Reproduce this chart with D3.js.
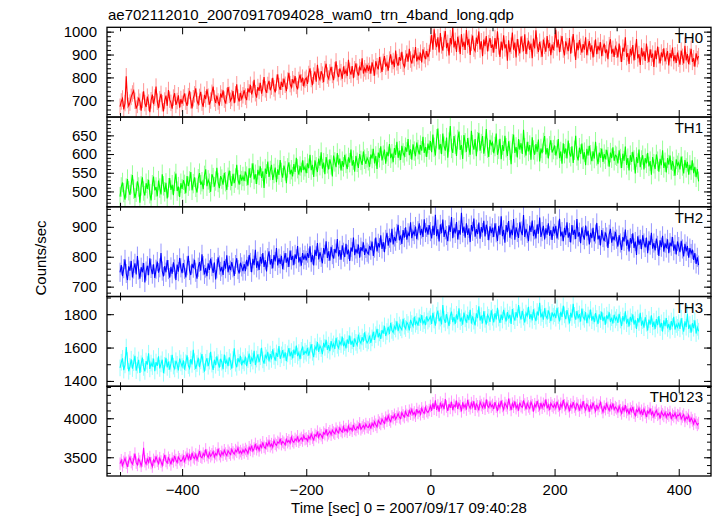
<!DOCTYPE html>
<html>
<head>
<meta charset="utf-8">
<script src="https://cdn.jsdelivr.net/npm/d3@7"></script>
<style>
  html, body { margin: 0; padding: 0; background: #fff; }
  svg { display: block; font-family: "Liberation Sans", Arial, Helvetica, sans-serif; }
</style>
</head>
<body>
<svg id="chart" width="717" height="516"></svg>
<script>
// ---------------- data ----------------
const titleText = "ae702112010_20070917094028_wam0_trn_4band_long.qdp";
const xLabel = "Time [sec] 0 = 2007/09/17 09:40:28";
const yLabel = "Counts/sec";
const bandNames = ["TH0", "TH1", "TH2", "TH3", "TH0123"];
const bandColors = ["#ff0000", "#00ff00", "#0000ff", "#00ffff", "#ff00ff"];
const tStart = -500, tStep = 2;           // first bin time and bin width (s)
const xTicksMajor = [-400, -200, 0, 200, 400];
const yTicksMajor = [[700, 800, 900, 1000], [500, 550, 600, 650], [700, 800, 900], [1400, 1600, 1800], [3500, 4000]];
const yMinorStep = [20, 10, 20, 100, 100];
const yDomains = [[627, 1019], [459, 699], [667, 967], [1368, 1906], [3260, 4410]];
const errBars = [36, 26, 32, 50, 80];

const th0 = [
672,695,708,660,688,805,701,676,690,715,730,742,698,664,680,712,694,655,702,739,
688,671,716,690,648,700,725,683,712,760,694,666,705,728,687,652,699,721,676,745,
703,689,664,712,731,680,697,722,668,706,
685,712,730,694,676,718,741,700,665,709,726,752,698,683,715,737,690,672,724,705,
748,716,681,699,733,760,708,689,721,695,677,730,712,744,703,686,719,758,724,698,
710,741,688,726,770,712,695,733,706,722,
744,716,701,752,735,768,726,747,790,731,712,758,741,776,729,754,802,748,733,767,
785,744,760,798,752,735,777,814,762,746,781,759,795,768,740,786,820,771,757,792,
774,806,763,748,789,812,778,799,761,790,
798,772,815,840,793,766,808,826,781,855,803,790,827,812,779,836,860,808,795,822,
846,811,788,832,870,818,801,839,823,794,848,815,832,806,877,829,812,850,797,836,
862,824,808,845,831,884,817,840,826,855,
828,852,816,866,842,808,871,849,835,889,855,824,868,893,847,862,830,878,901,856,
872,845,917,866,851,889,873,912,860,846,883,904,869,925,878,861,897,884,933,870,
892,876,908,865,923,896,880,915,889,907,
948,985,921,1010,956,932,975,909,994,940,917,968,1003,928,951,896,972,944,1018,931,
960,911,978,947,902,989,934,956,920,1007,941,969,898,952,983,926,915,974,947,1001,
922,958,893,965,937,981,914,950,972,929,
944,908,972,925,1002,936,890,957,918,984,927,945,873,962,910,938,996,921,952,887,
968,931,905,979,946,915,988,902,937,961,920,948,884,970,927,1006,939,911,956,924,
890,965,938,912,981,928,951,897,944,919,
952,1008,931,965,910,947,981,922,896,958,937,915,972,904,943,990,928,876,951,919,
963,934,908,946,921,975,897,932,959,913,940,887,926,966,902,938,918,954,893,929,
948,906,922,880,941,967,904,925,890,934,
921,887,948,903,868,930,912,975,889,906,859,925,896,941,874,912,968,883,902,855,
930,891,914,872,948,899,867,923,886,904,846,918,880,935,897,861,909,888,927,870,
893,915,852,906,884,930,871,897,863,909,
882,856,917,890,861,938,874,902,858,891,925,868,884,847,905,880,893];

const th1 = [
486,512,524,497,478,509,533,502,491,520,544,506,483,498,527,512,470,515,538,501,
489,522,507,531,494,476,518,540,503,512,487,529,509,492,546,515,499,523,481,510,
536,504,518,490,527,548,501,513,485,522,
507,530,519,495,541,514,528,552,503,521,538,511,497,534,549,518,526,506,543,559,
514,531,522,499,546,537,513,528,563,524,509,541,533,518,550,526,504,538,556,529,
515,547,522,536,571,531,518,545,529,540,
528,553,541,517,562,537,549,575,532,546,520,558,543,567,536,554,509,561,547,580,
539,556,571,531,548,564,525,559,544,584,551,537,569,555,522,563,578,546,558,540,
573,552,590,561,545,568,551,583,557,566,
549,575,562,598,557,571,539,583,566,552,588,569,605,561,577,546,592,574,559,586,
571,540,596,579,565,603,572,588,556,581,566,598,575,560,591,577,612,569,584,553,
595,578,563,600,583,571,607,586,574,590,
582,566,599,588,614,575,595,560,604,590,621,583,597,612,574,606,594,627,589,601,
578,616,598,633,590,609,584,622,603,595,618,606,640,597,613,585,626,608,594,631,
612,599,624,609,646,603,619,592,628,611,
635,605,652,618,596,641,668,612,627,600,655,621,609,644,590,632,675,615,603,648,
626,595,639,660,611,624,587,651,630,606,643,618,598,662,625,612,640,594,633,657,
609,628,648,601,621,667,616,592,638,624,
631,602,620,655,598,613,641,586,624,608,649,617,595,634,610,573,628,652,603,619,
591,640,612,629,600,665,617,596,633,607,624,585,645,611,598,627,606,639,580,615,
602,631,648,599,616,588,622,637,604,612,
623,596,612,640,589,607,574,629,601,615,588,636,603,593,621,576,610,649,595,583,
617,600,628,586,605,570,614,596,622,598,581,607,588,633,595,573,604,590,615,579,
600,586,611,593,566,604,589,618,582,597,
594,575,610,588,563,601,582,620,571,589,556,597,579,606,584,548,592,576,612,565,
584,597,559,589,575,603,567,581,545,592,574,560,599,581,553,587,570,610,563,578,
551,589,572,596,558,581,567,542,586,570,
577,559,593,568,548,584,563,579,545,571,557,583,549,566,538,560,527];

const th2 = [
748,772,735,760,791,744,722,768,753,786,731,759,778,741,802,756,727,765,748,779,
714,752,770,738,795,761,742,775,729,758,784,747,763,812,752,734,769,748,789,757,
730,766,743,781,759,722,774,750,796,763,
745,779,758,731,770,803,754,739,776,762,790,748,727,765,782,753,808,770,741,762,
735,778,756,794,767,746,781,724,760,798,772,751,766,739,786,760,805,748,771,755,
782,763,736,774,795,757,744,780,766,752,
775,752,790,768,806,781,748,793,772,823,763,785,756,800,777,812,766,789,751,797,
818,774,792,761,806,784,829,771,795,776,803,758,788,812,780,797,766,821,789,803,
772,808,793,836,781,799,770,812,790,805,
788,812,796,835,782,806,771,823,803,846,791,815,798,778,829,808,852,796,818,787,
833,807,794,826,812,859,801,822,790,838,815,799,843,808,824,786,831,817,864,805,
826,811,841,797,832,819,848,806,828,815,
809,836,822,851,803,829,864,818,845,831,872,826,849,815,858,880,837,862,848,893,
841,866,852,878,907,855,871,843,889,864,898,857,880,869,915,862,885,874,901,859,
887,912,872,893,866,925,881,898,874,906,
884,861,903,873,940,869,892,851,908,879,924,866,890,871,852,905,883,933,862,897,
878,916,858,889,874,947,880,901,864,912,873,895,849,906,885,928,867,892,876,914,
860,899,881,920,868,907,888,855,902,879,
897,866,912,880,853,903,874,935,869,890,847,906,882,919,864,891,872,926,857,898,
881,863,915,886,872,939,866,893,878,852,904,883,921,869,890,861,908,877,931,866,
884,903,858,895,874,912,870,889,856,901,
878,903,861,889,927,868,884,852,897,872,915,864,881,848,906,873,890,859,926,867,
882,845,898,871,857,904,869,887,841,880,862,897,851,876,913,858,871,838,889,864,
852,881,866,829,875,893,847,868,855,883,
859,834,872,846,823,866,851,891,837,857,818,862,844,878,829,851,806,868,840,858,
825,872,846,831,864,812,853,839,880,827,846,821,861,838,803,855,832,870,817,845,
829,858,812,847,835,866,820,841,808,851,
834,815,853,826,801,843,818,836,797,829,811,824,789,812,776,798,772];

const th3 = [
1478,1512,1535,1465,1496,1603,1522,1458,1487,1530,1474,1509,1551,1462,1495,1526,1448,1503,1540,1481,
1457,1519,1498,1566,1472,1507,1486,1534,1459,1513,1490,1548,1475,1502,1527,1446,1493,1538,1481,1516,
1468,1505,1557,1489,1472,1521,1499,1463,1534,1508,
1486,1524,1468,1509,1553,1492,1476,1531,1499,1587,1515,1472,1504,1539,1483,1520,1561,1497,1455,1512,
1536,1488,1519,1574,1501,1466,1527,1494,1548,1509,1480,1533,1512,1470,1558,1503,1524,1489,1541,1515,
1474,1528,1596,1506,1482,1537,1511,1550,1493,1522,
1508,1546,1489,1528,1564,1502,1537,1519,1580,1495,1531,1559,1512,1545,1598,1526,1504,1553,1538,1574,
1517,1561,1529,1590,1547,1522,1568,1544,1609,1533,1556,1585,1539,1571,1518,1562,1597,1548,1576,1535,
1588,1557,1612,1549,1570,1531,1583,1602,1556,1578,
1566,1598,1552,1584,1620,1571,1543,1606,1589,1633,1574,1611,1594,1560,1628,1601,1647,1586,1615,1578,
1639,1604,1622,1591,1658,1613,1597,1635,1618,1666,1608,1630,1595,1649,1623,1672,1617,1641,1604,1655,
1631,1614,1678,1640,1625,1663,1636,1691,1648,1627,
1640,1672,1628,1658,1695,1646,1677,1712,1661,1688,1652,1705,1684,1730,1669,1696,1724,1681,1748,1703,
1690,1726,1711,1757,1698,1735,1719,1706,1772,1728,1714,1751,1738,1703,1766,1744,1727,1785,1740,1756,
1731,1779,1750,1795,1743,1762,1734,1788,1759,1771,
1786,1742,1808,1765,1731,1794,1822,1758,1777,1739,1855,1770,1748,1801,1763,1729,1790,1816,1752,1783,
1741,1799,1768,1835,1756,1779,1737,1810,1772,1750,1796,1764,1827,1744,1787,1759,1733,1805,1776,1848,
1762,1791,1745,1818,1769,1738,1796,1781,1754,1823,
1782,1751,1806,1769,1839,1777,1748,1798,1765,1826,1789,1756,1813,1774,1797,1742,1831,1786,1761,1812,
1779,1855,1795,1768,1820,1783,1750,1807,1790,1844,1771,1800,1763,1829,1785,1758,1816,1792,1869,1781,
1804,1767,1836,1789,1774,1822,1797,1758,1811,1788,
1803,1776,1838,1792,1757,1815,1784,1851,1796,1770,1824,1788,1745,1809,1780,1862,1793,1767,1819,1775,
1801,1756,1834,1783,1769,1812,1746,1795,1777,1828,1761,1790,1752,1806,1774,1741,1799,1768,1815,1758,
1786,1737,1794,1770,1812,1753,1779,1744,1797,1766,
1781,1748,1802,1765,1729,1789,1757,1817,1743,1772,1726,1784,1755,1799,1738,1766,1712,1777,1750,1808,
1731,1761,1719,1782,1746,1702,1768,1737,1793,1724,1756,1711,1771,1734,1789,1720,1748,1696,1763,1729,
1777,1715,1742,1704,1759,1726,1784,1708,1738,1721,
1749,1712,1776,1728,1695,1757,1722,1803,1711,1738,1689,1746,1716,1763,1684,1721,1698];

const th0123 = [
3418,3462,3395,3441,3487,3429,3376,3455,3500,3438,3412,3468,3547,3431,3402,3479,3446,3391,3458,3620,
3449,3412,3476,3435,3503,3426,3381,3467,3440,3512,3454,3418,3489,3445,3397,3471,3530,3452,3426,3494,
3462,3408,3483,3447,3519,3465,3431,3502,3474,3448,
3466,3512,3449,3495,3541,3478,3527,3462,3558,3501,3485,3536,3470,3519,3580,3507,3493,3547,3515,3601,
3528,3497,3556,3514,3538,3575,3503,3549,3526,3612,3541,3513,3569,3531,3590,3548,3522,3584,3557,3535,
3603,3562,3540,3592,3571,3620,3553,3579,3547,3596,
3561,3606,3582,3547,3628,3594,3650,3579,3613,3671,3603,3639,3588,3657,3626,3692,3634,3615,3678,3648,
3705,3641,3669,3628,3714,3672,3653,3697,3681,3740,3667,3702,3685,3658,3731,3693,3716,3680,3758,3709,
3691,3735,3712,3769,3700,3726,3748,3714,3777,3732,
3742,3710,3768,3735,3796,3752,3722,3789,3771,3829,3757,3803,3782,3748,3816,3795,3858,3781,3807,3834,
3790,3848,3818,3801,3867,3829,3812,3876,3842,3823,3889,3837,3861,3826,3900,3852,3874,3839,3915,3863,
3848,3892,3870,3935,3858,3883,3907,3871,3926,3889,
3881,3921,3866,3937,3902,3955,3918,3889,3972,3944,3926,3990,3957,3935,4008,3969,4031,3982,3958,4024,
4001,4045,3987,4019,4060,4012,3996,4073,4037,4015,4088,4043,4026,4097,4058,4110,4047,4075,4032,4118,
4069,4094,4051,4127,4083,4061,4139,4092,4074,4106,
4158,4096,4192,4121,4230,4107,4165,4085,4201,4140,4178,4116,4247,4150,4094,4183,4132,4212,4103,4169,
4145,4226,4119,4190,4157,4088,4204,4138,4175,4111,4236,4162,4127,4195,4146,4218,4108,4181,4153,4100,
4209,4168,4134,4187,4122,4241,4159,4137,4199,4148,
4171,4119,4206,4148,4092,4183,4140,4227,4156,4111,4195,4163,4130,4252,4174,4105,4188,4147,4216,4129,
4168,4098,4201,4155,4139,4230,4176,4113,4192,4151,4124,4209,4167,4086,4180,4143,4221,4160,4117,4198,
4135,4185,4157,4242,4126,4170,4104,4193,4161,4140,
4178,4130,4213,4159,4101,4186,4142,4235,4167,4120,4194,4153,4088,4175,4138,4208,4149,4112,4190,4163,
4097,4170,4132,4221,4144,4106,4181,4156,4085,4164,4127,4199,4140,4093,4172,4118,4158,4203,4131,4079,
4150,4116,4184,4134,4098,4167,4125,4190,4108,4143,
4126,4083,4155,4104,4062,4137,4095,4168,4079,4112,4050,4124,4089,4146,4071,4033,4109,4084,4131,4058,
4097,4040,4118,4074,4016,4092,4063,4125,4048,4081,4021,4070,4099,4044,4062,3994,4087,4053,4030,4076,
4012,4059,4035,4081,3987,4046,4024,4068,4002,4041,
4031,4063,3990,4022,4048,3966,4015,3992,4037,3951,4004,3972,3928,3985,3946,3915,3938];

const seriesValues = [th0, th1, th2, th3, th0123];

// ---------------- layout ----------------
const plotLeft = 107, plotRight = 711, plotTop = 27.3, plotBottom = 476;
const nP = bandNames.length;
const pH = (plotBottom - plotTop) / nP;
const svg = d3.select("#chart");
const FS = 15;

const x = d3.scaleLinear().domain([-521, 452]).range([plotLeft, plotRight]);

svg.append("defs").selectAll("clipPath").data(bandNames).join("clipPath")
  .attr("id", (d, i) => "clip" + i)
  .append("rect").attr("x", plotLeft).attr("width", plotRight - plotLeft)
  .attr("y", (d, i) => plotTop + i * pH).attr("height", pH);

bandNames.forEach((name, i) => {
  const y0 = plotTop + i * pH, y1 = y0 + pH;
  const y = d3.scaleLinear().domain(yDomains[i]).range([y1, y0]);
  const data = seriesValues[i].map((v, k) => ({ t: tStart + k * tStep, v }));
  const g = svg.append("g");
  const plot = g.append("g").attr("clip-path", `url(#clip${i})`);
  // error bars
  plot.append("g").selectAll("line").data(data).join("line")
    .attr("x1", d => x(d.t)).attr("x2", d => x(d.t))
    .attr("y1", d => y(d.v - errBars[i])).attr("y2", d => y(d.v + errBars[i]))
    .attr("stroke", bandColors[i]).attr("stroke-opacity", 0.42).attr("stroke-width", 1);
  // data line
  plot.append("path").datum(data)
    .attr("d", d3.line().x(d => x(d.t)).y(d => y(d.v)))
    .attr("fill", "none").attr("stroke", bandColors[i]).attr("stroke-width", 1.1);

  // y axis (left labels, ticks inward on both sides)
  const yMaj = yTicksMajor[i];
  const yMin = d3.range(Math.ceil(yDomains[i][0] / yMinorStep[i]) * yMinorStep[i], yDomains[i][1], yMinorStep[i]);
  const yl = d3.axisLeft(y).tickValues(yMaj).tickSize(-7).tickPadding(10).tickFormat(d3.format("d"));
  const ylg = g.append("g").attr("transform", `translate(${plotLeft},0)`).call(yl);
  const ylm = g.append("g").attr("transform", `translate(${plotLeft},0)`).call(d3.axisLeft(y).tickValues(yMin).tickSize(-4).tickFormat(""));
  const yr = g.append("g").attr("transform", `translate(${plotRight},0)`).call(d3.axisRight(y).tickValues(yMaj).tickSize(-7).tickFormat(""));
  const yrm = g.append("g").attr("transform", `translate(${plotRight},0)`).call(d3.axisRight(y).tickValues(yMin).tickSize(-4).tickFormat(""));
  // x ticks top and bottom of panel
  const xMin = d3.range(-500, 451, 100).filter(v => !xTicksMajor.includes(v));
  const xt = g.append("g").attr("transform", `translate(0,${y0})`).call(d3.axisTop(x).tickValues(xTicksMajor).tickSize(-7).tickFormat(""));
  const xtm = g.append("g").attr("transform", `translate(0,${y0})`).call(d3.axisTop(x).tickValues(xMin).tickSize(-4).tickFormat(""));
  const xb = g.append("g").attr("transform", `translate(0,${y1})`).call(d3.axisBottom(x).tickValues(xTicksMajor).tickSize(-7)
      .tickPadding(i === nP - 1 ? 8 : 0).tickFormat(i === nP - 1 ? (d => d < 0 ? "\u2212" + Math.abs(d) : d) : ""));
  const xbm = g.append("g").attr("transform", `translate(0,${y1})`).call(d3.axisBottom(x).tickValues(xMin).tickSize(-4).tickFormat(""));
  [ylg, ylm, yr, yrm, xt, xtm, xb, xbm].forEach(a => {
    a.select(".domain").remove();
    a.selectAll(".tick line").attr("stroke", "#000").attr("stroke-width", 1);
    a.selectAll("text").attr("font-size", FS).attr("fill", "#000").attr("font-family", "Liberation Sans, Arial, sans-serif");
  });
  // frame
  g.append("rect").attr("x", plotLeft).attr("y", y0).attr("width", plotRight - plotLeft).attr("height", pH)
    .attr("fill", "none").attr("stroke", "#000").attr("stroke-width", 1.3);
  // band label
  g.append("text").attr("x", plotRight - 8).attr("y", y0 + 16).attr("text-anchor", "end")
    .attr("font-size", FS).attr("fill", "#000").text(name);
});

svg.append("text").attr("x", 108).attr("y", 20).attr("font-size", FS).attr("fill", "#000").text(titleText);
svg.append("text").attr("x", (plotLeft + plotRight) / 2).attr("y", 513).attr("text-anchor", "middle")
  .attr("font-size", FS).attr("fill", "#000").text(xLabel);
svg.append("text").attr("transform", "translate(46,258) rotate(-90)").attr("text-anchor", "middle")
  .attr("font-size", FS).attr("fill", "#000").text(yLabel);
</script>
</body>
</html>
